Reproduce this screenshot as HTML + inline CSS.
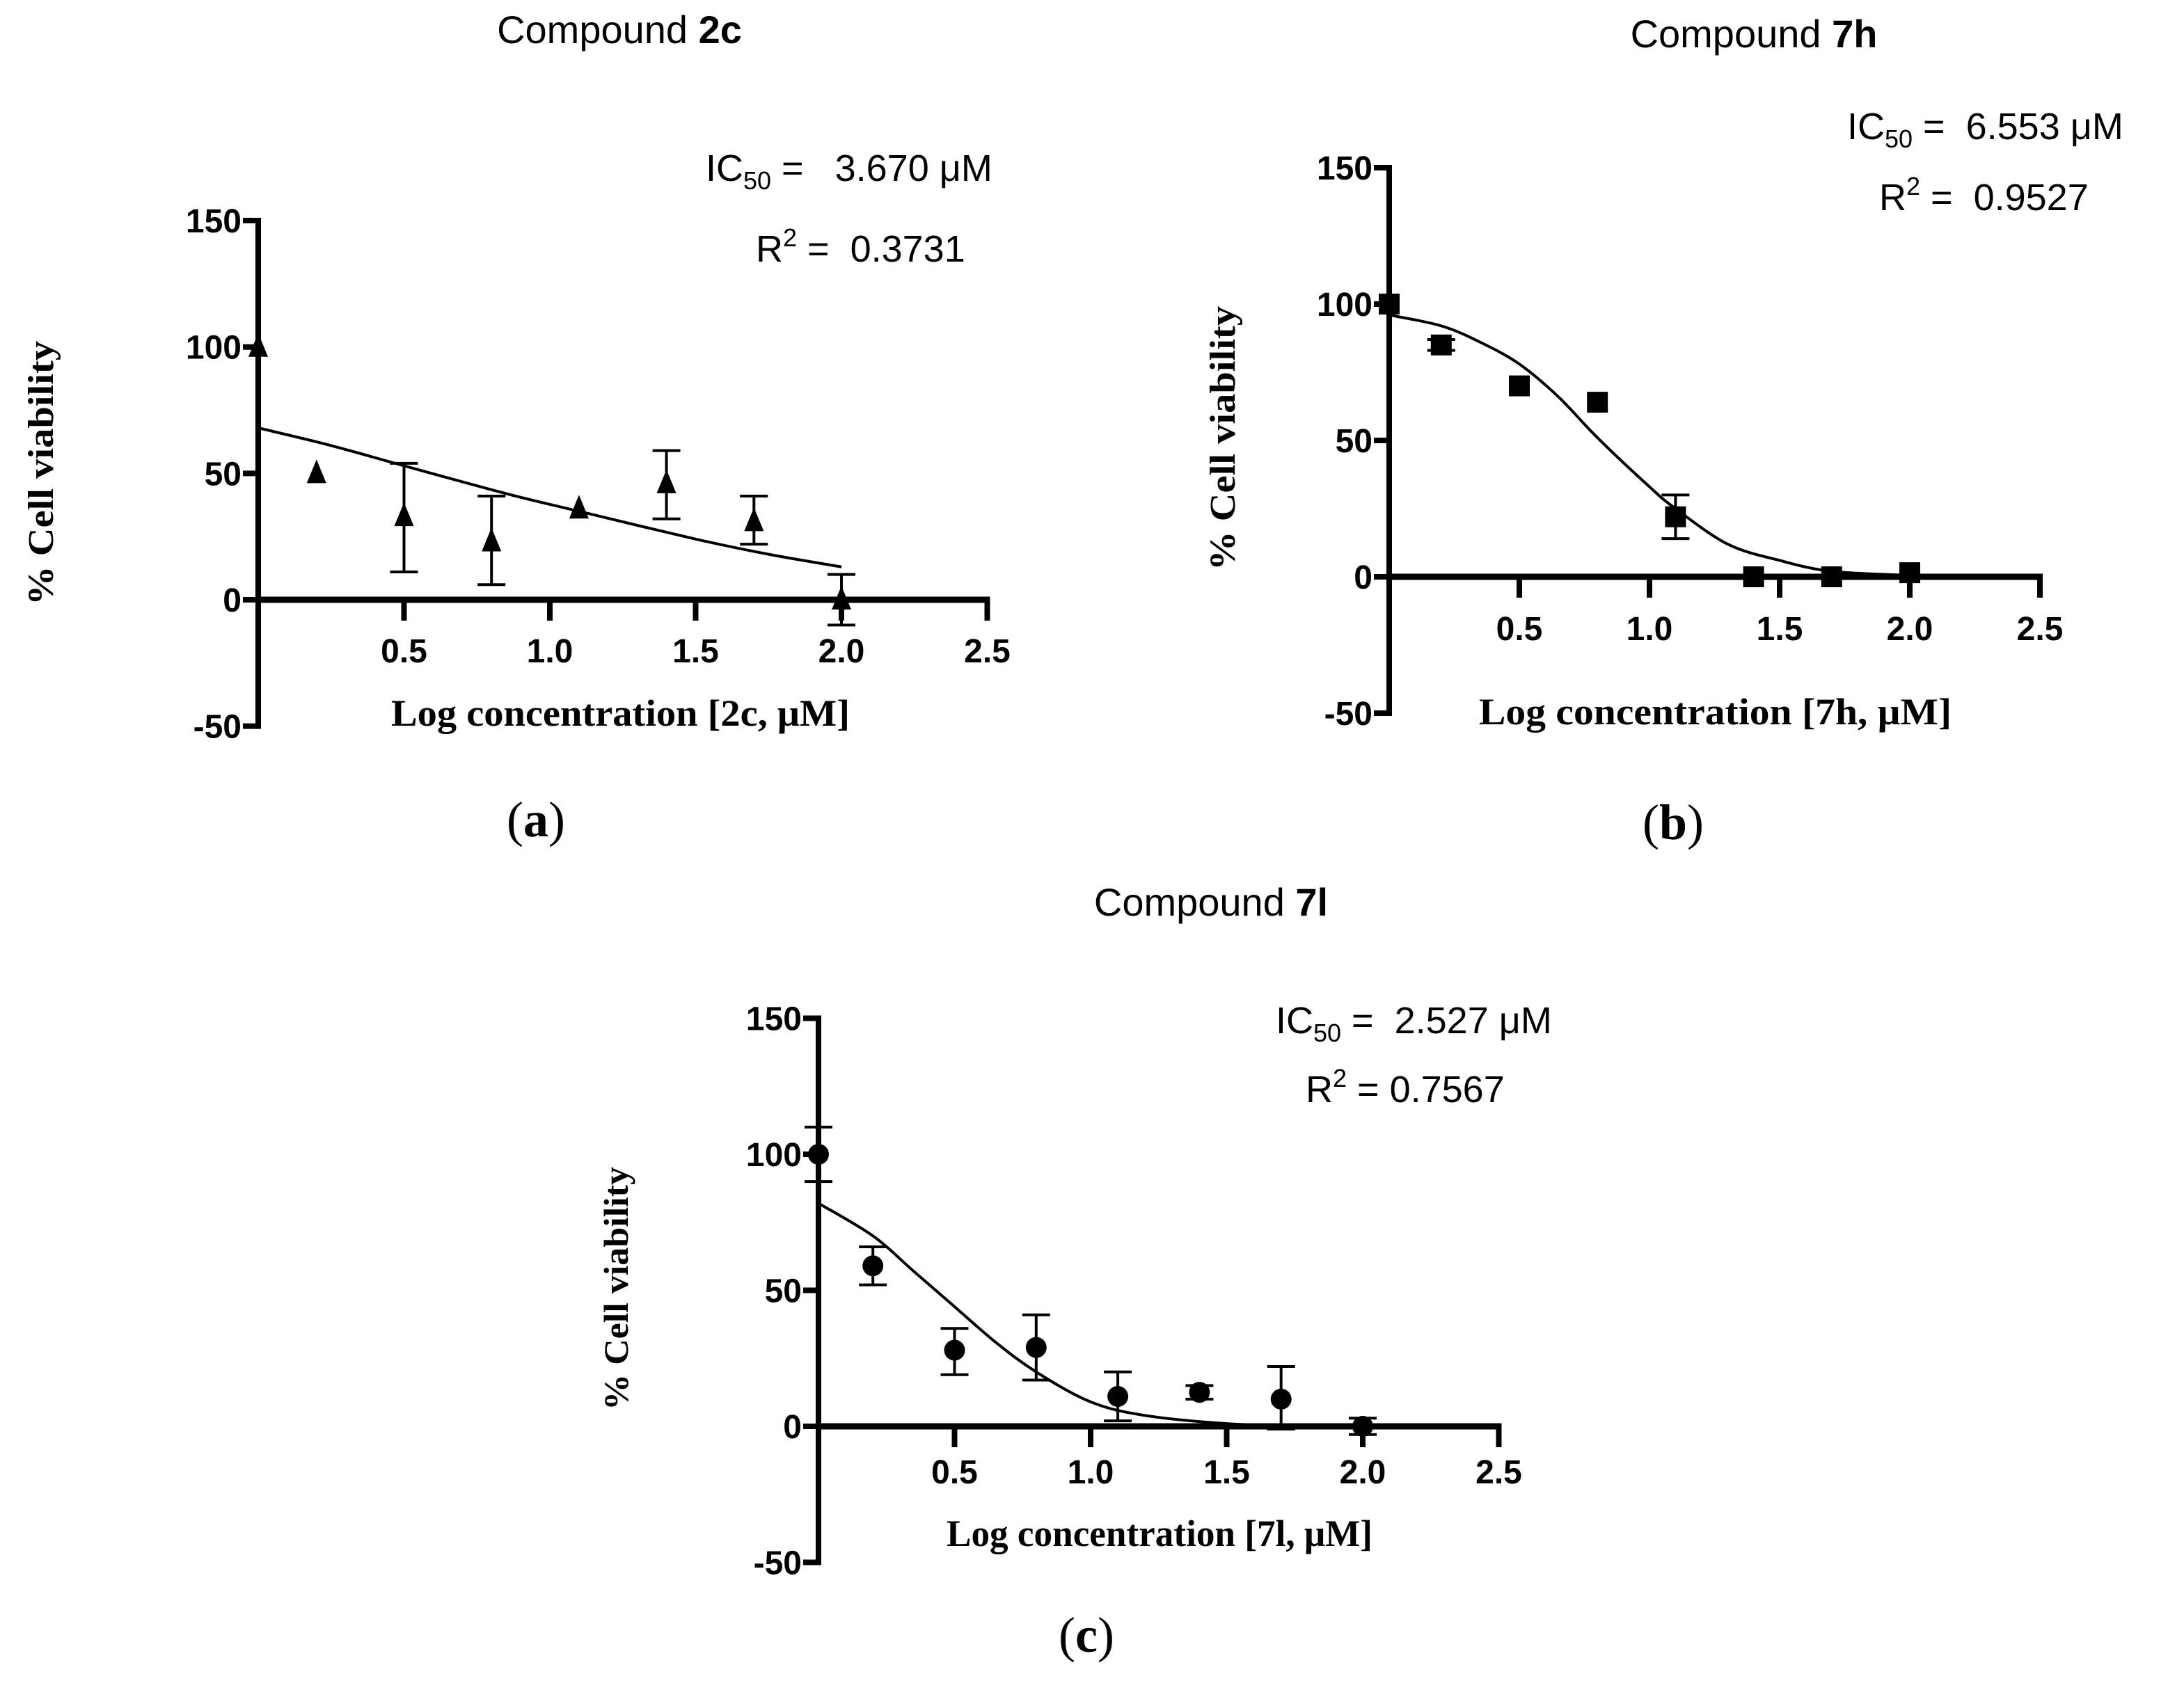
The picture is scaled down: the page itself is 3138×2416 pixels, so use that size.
<!DOCTYPE html>
<html><head><meta charset="utf-8">
<style>
html,body{margin:0;padding:0;background:#fff;}
svg{display:block;}
.sans{font-family:"Liberation Sans",sans-serif;white-space:pre;}
.serif{font-family:"Liberation Serif",serif;}
</style></head>
<body>
<svg id="fig" width="3138" height="2416" viewBox="0 0 3138 2416" xmlns="http://www.w3.org/2000/svg" xml:space="preserve">
<rect width="3138" height="2416" fill="#fff"/>
<!-- Panel a texts -->
<text class="sans" x="890" y="62" font-size="56" text-anchor="middle">Compound <tspan font-weight="bold">2c</tspan></text>
<text class="sans" x="1014" y="260" font-size="54">IC<tspan font-size="36" dy="12">50</tspan><tspan dy="-12"> =   3.670 μM</tspan></text>
<text class="sans" x="1086" y="376" font-size="54">R<tspan font-size="36" dy="-22">2</tspan><tspan dy="22"> =  0.3731</tspan></text>
<text class="serif" x="562" y="1043" font-size="54" font-weight="bold" textLength="659" lengthAdjust="spacingAndGlyphs">Log concentration [2c, μM]</text>
<text class="serif" font-size="52" font-weight="bold" text-anchor="middle" transform="translate(76,680) rotate(-90)" textLength="380" lengthAdjust="spacingAndGlyphs">% Cell viability</text>
<text class="serif" x="770" y="1202" font-size="72" text-anchor="middle">(<tspan font-weight="bold">a</tspan>)</text>
<!-- Panel b texts -->
<text class="sans" x="2520" y="68" font-size="56" text-anchor="middle">Compound <tspan font-weight="bold">7h</tspan></text>
<text class="sans" x="2654" y="200" font-size="54">IC<tspan font-size="36" dy="12">50</tspan><tspan dy="-12"> =  6.553 μM</tspan></text>
<text class="sans" x="2700" y="302" font-size="54">R<tspan font-size="36" dy="-22">2</tspan><tspan dy="22"> =  0.9527</tspan></text>
<text class="serif" x="2125" y="1041" font-size="54" font-weight="bold" textLength="679" lengthAdjust="spacingAndGlyphs">Log concentration [7h, μM]</text>
<text class="serif" font-size="52" font-weight="bold" text-anchor="middle" transform="translate(1774,630) rotate(-90)" textLength="380" lengthAdjust="spacingAndGlyphs">% Cell viability</text>
<text class="serif" x="2404" y="1206" font-size="72" text-anchor="middle">(<tspan font-weight="bold">b</tspan>)</text>
<!-- Panel c texts -->
<text class="sans" x="1740" y="1316" font-size="56" text-anchor="middle">Compound <tspan font-weight="bold">7l</tspan></text>
<text class="sans" x="1833" y="1485" font-size="54">IC<tspan font-size="36" dy="12">50</tspan><tspan dy="-12"> =  2.527 μM</tspan></text>
<text class="sans" x="1876" y="1584" font-size="54">R<tspan font-size="36" dy="-22">2</tspan><tspan dy="22"> = 0.7567</tspan></text>
<text class="serif" x="1360" y="2222" font-size="54" font-weight="bold" textLength="612" lengthAdjust="spacingAndGlyphs">Log concentration [7l, μM]</text>
<text class="serif" font-size="50" font-weight="bold" text-anchor="middle" transform="translate(902,1852) rotate(-90)" textLength="350" lengthAdjust="spacingAndGlyphs">% Cell viability</text>
<text class="serif" x="1561" y="2374" font-size="72" text-anchor="middle">(<tspan font-weight="bold">c</tspan>)</text>
<g id="plots"></g>
</svg>
<script>
// ---- data ----
const xTicks = [0.5, 1.0, 1.5, 2.0, 2.5];
const xTickLabels = ["0.5", "1.0", "1.5", "2.0", "2.5"];
const yTicks = [150, 100, 50, 0, -50];
const yTickLabels = ["150", "100", "50", "0", "-50"];

const xA = [0, 0.2, 0.5, 0.8, 1.1, 1.4, 1.7, 2.0];
const yA = [100, 50, 33, 23, 36, 46, 31, 0];
const errHiA = [100, 50, 54, 41, 36, 59, 41, 10];
const errLoA = [100, 50, 11, 6, 36, 32, 22, -10];
const curveXA = [0, 0.25, 0.5, 0.85, 1.1, 1.5, 1.75, 2.0];
const curveYA = [68, 61, 53, 42, 35, 24, 18, 13];

const xB = [0, 0.2, 0.5, 0.8, 1.1, 1.4, 1.7, 2.0];
const yB = [100, 85, 70, 64, 22, 0, 0, 1.5];
const errHiB = [100, 87, 70, 64, 30, 0, 0, 1.5];
const errLoB = [100, 83, 70, 64, 14, 0, 0, 1.5];
const curveXB = [0, 0.2, 0.35, 0.5, 0.65, 0.8, 1.0, 1.1, 1.3, 1.5, 1.7, 2.0];
const curveYB = [96, 92, 86, 78, 66, 51, 33, 25, 12, 6, 2, 0.5];

const xC = [0, 0.2, 0.5, 0.8, 1.1, 1.4, 1.7, 2.0];
const yC = [100, 59, 28, 29, 11, 12.5, 10, 0];
const errHiC = [110, 66, 36, 41, 20, 15, 22, 3];
const errLoC = [90, 52, 19, 17, 2, 10, -1, -3];
const curveXC = [0, 0.2, 0.35, 0.5, 0.65, 0.8, 1.0, 1.2, 1.5, 1.75, 2.0];
const curveYC = [82, 70, 57, 44, 31, 20, 9, 4, 1, 0.3, 0];

const NS = "http://www.w3.org/2000/svg";
const root = document.getElementById("plots");
function mk(tag, attrs, parent) {
  const e = document.createElementNS(NS, tag);
  for (const k in attrs) e.setAttribute(k, attrs[k]);
  (parent || root).appendChild(e);
  return e;
}

function drawPanel(id, ax, xs, ys, hi, lo, cx, cy, marker, labelBase) {
  const g = mk("g", {});
  
  
  const X = v => ax.x0 + v * ax.xs;
  const Y = v => ax.y0 - v * ax.ys;
  const ya = mk("line", {x1: X(0), x2: X(0), y1: Y(150) - 4, y2: Y(-50) + 4, stroke: "#000", "stroke-width": 8}, g);
  
  
  yTicks.forEach((t, i) => {
    const tk = mk("line", {x1: X(0) - 22, x2: X(0), y1: Y(t), y2: Y(t), stroke: "#000", "stroke-width": 8}, g);
    
    
    const tl = mk("text", {x: X(0) - 24, y: Y(t) + 17, "font-size": 48, "font-weight": "bold", "text-anchor": "end", "font-family": "Liberation Sans, sans-serif"}, g);
    tl.textContent = yTickLabels[i];
    
    
  });
  const xa = mk("line", {x1: X(0), x2: X(2.5) + 4, y1: Y(0), y2: Y(0), stroke: "#000", "stroke-width": 9}, g);
  
  
  xTicks.forEach((t, i) => {
    const tk = mk("line", {x1: X(t), x2: X(t), y1: Y(0), y2: Y(0) + 30, stroke: "#000", "stroke-width": 8}, g);
    
    
    const tl = mk("text", {x: X(t), y: labelBase, "font-size": 48, "font-weight": "bold", "text-anchor": "middle", "font-family": "Liberation Sans, sans-serif"}, g);
    tl.textContent = xTickLabels[i];
    
    
  });
  const P = cx.map((v, i) => [X(v), Y(cy[i])]);
  let d = "M" + P[0][0] + "," + P[0][1];
  for (let i = 0; i < P.length - 1; i++) {
    const p0 = P[i - 1] || P[i], p1 = P[i], p2 = P[i + 1], p3 = P[i + 2] || P[i + 1];
    const c1 = [p1[0] + (p2[0] - p0[0]) / 6, p1[1] + (p2[1] - p0[1]) / 6];
    const c2 = [p2[0] - (p3[0] - p1[0]) / 6, p2[1] - (p3[1] - p1[1]) / 6];
    d += " C" + c1 + " " + c2 + " " + p2;
  }
  const cv = mk("path", {d: d, fill: "none", stroke: "#000", "stroke-width": 4}, g);
  
  
  xs.forEach((v, i) => {
    const px = X(v);
    if (hi[i] - lo[i] > 3) {
      const eb = mk("path", {d: `M${px},${Y(hi[i])}V${Y(lo[i])}M${px - 20},${Y(hi[i])}H${px + 20}M${px - 20},${Y(lo[i])}H${px + 20}`, stroke: "#000", "stroke-width": 4, fill: "none"}, g);
      
      
    }
    const py = Y(ys[i]);
    let m;
    if (marker === "tri") m = mk("polygon", {points: `${px},${py - 20} ${px - 14},${py + 14} ${px + 14},${py + 14}`, fill: "#000"}, g);
    else if (marker === "sq") m = mk("rect", {x: px - 15, y: py - 15, width: 30, height: 30, fill: "#000"}, g);
    else m = mk("circle", {cx: px, cy: py, r: 15, fill: "#000"}, g);
    
    
  });
}

drawPanel("a", {x0: 371, xs: 419, y0: 862, ys: 3.633}, xA, yA, errHiA, errLoA, curveXA, curveYA, "tri", 952);
drawPanel("b", {x0: 1996, xs: 374, y0: 829, ys: 3.92}, xB, yB, errHiB, errLoB, curveXB, curveYB, "sq", 920);
drawPanel("c", {x0: 1176, xs: 391, y0: 2050, ys: 3.91}, xC, yC, errHiC, errLoC, curveXC, curveYC, "circ", 2132);
</script>
</body></html>
